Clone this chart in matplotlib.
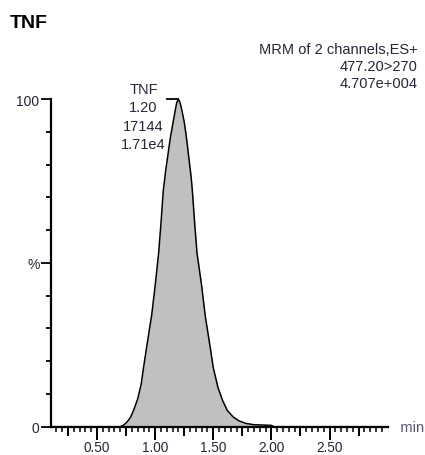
import matplotlib
matplotlib.use("Agg")
import matplotlib.pyplot as plt
import numpy as np

FAM = ['Liberation Sans', 'DejaVu Sans']

# data (time in min, relative intensity %)
time_min = [0.10, 0.70, 0.73, 0.76, 0.79, 0.82, 0.85, 0.88, 0.90, 0.93, 0.97, 1.00,
            1.03, 1.05, 1.07, 1.09, 1.11, 1.13, 1.15, 1.17, 1.185, 1.20, 1.215, 1.23,
            1.25, 1.27, 1.29, 1.31, 1.32, 1.34, 1.36, 1.40, 1.43, 1.47, 1.50, 1.54,
            1.58, 1.62, 1.67, 1.72, 1.78, 1.85, 1.93, 2.00, 2.02, 3.00]
intensity = [0, 0, 0.5, 1.5, 3, 5.5, 8.5, 13, 18, 25, 34, 43,
             53, 62, 72, 78, 83, 88, 92, 96, 98.8, 100, 98.8, 96.5,
             93, 88, 82, 76, 72, 62, 53, 43, 34, 25, 18, 12,
             8, 5, 3, 1.8, 1.0, 0.6, 0.5, 0.4, 0, 0]

x_major = [0.50, 1.00, 1.50, 2.00, 2.50]
x_major_labels = ["0.50", "1.00", "1.50", "2.00", "2.50"]
y_labels = {0: "0", 50: "%", 100: "100"}

title = "TNF"
header = ["MRM of 2 channels,ES+", "477.20>270", "4.707e+004"]
peak_label = ["TNF", "1.20", "17144", "1.71e4"]
peak_rt = 1.20

W, H = 425, 456
fig = plt.figure(figsize=(W / 100, H / 100), dpi=100)
x0px, x1px = 50.5, 387.7
y0px, y1px = 427.7, 100
ax = fig.add_axes([x0px / W, (H - y0px) / H, (x1px - x0px) / W, (y0px - y1px) / H])
ax.set_xlim(0.10, 3.00)
ax.set_ylim(0, 100)

tcol = '#26263a'
ax.fill_between(time_min, intensity, 0, color='#c0c0c0', lw=0, zorder=1)
ax.plot(time_min, intensity, color='black', lw=1.1, zorder=2, clip_on=False)

for s in ['top', 'right']:
    ax.spines[s].set_visible(False)
for s in ['left', 'bottom']:
    ax.spines[s].set_linewidth(1.6)
    ax.spines[s].set_color('black')

# x ticks
ax.set_xticks(x_major)
ax.set_xticklabels(x_major_labels, family=FAM, fontsize=9.8, color=tcol)
ax.tick_params(axis='x', which='major', direction='out', length=9, width=1.4, pad=0.5)
minor = np.round(np.arange(0.15, 3.0001, 0.05), 2)
minor = [m for m in minor if abs(m / 0.5 - round(m / 0.5)) > 1e-6]
ax.set_xticks(minor, minor=True)
ax.tick_params(axis='x', which='minor', direction='out', length=3.6, width=1.1)
mid = [0.25, 0.75, 1.25, 1.75, 2.25, 2.75]
for m in mid:
    ax.plot([m, m], [0, -8.5 / 3.277], color='black', lw=1.4, clip_on=False, zorder=3)

# y ticks
ax.set_yticks(list(y_labels.keys()))
ax.set_yticklabels(list(y_labels.values()), family=FAM, fontsize=10, color=tcol)
ax.tick_params(axis='y', which='major', direction='out', length=7, width=1.3, pad=1)
ax.set_yticks([10, 20, 30, 40, 60, 70, 80, 90], minor=True)
ax.tick_params(axis='y', which='minor', direction='out', length=3.6, width=1.3)

# axis unit
ax.text(3.00, 0, "   min", transform=ax.transData, ha='left', va='center',
        family=FAM, fontsize=10.5, color='#555570')

# title and header
fig.text(10 / W, 1 - 23 / H, title, family=FAM, fontweight='bold', fontsize=14,
         color='black', ha='left', va='center')
for i, line in enumerate(header):
    fig.text(418 / W, 1 - (50 + 17 * i) / H, line, family=FAM, fontsize=10.5,
             color=tcol, ha='right', va='center')

# peak annotation
ax.plot([1.105, peak_rt], [100, 100], color='black', lw=1.3, clip_on=False, zorder=3)
for i, line in enumerate(peak_label):
    ax.text(143.5 / W, 1 - (90 + 18.5 * i) / H, line, transform=fig.transFigure,
            family=FAM, fontsize=10.5, color=tcol, ha='center', va='center')

fig.savefig("out.png", dpi=100)
